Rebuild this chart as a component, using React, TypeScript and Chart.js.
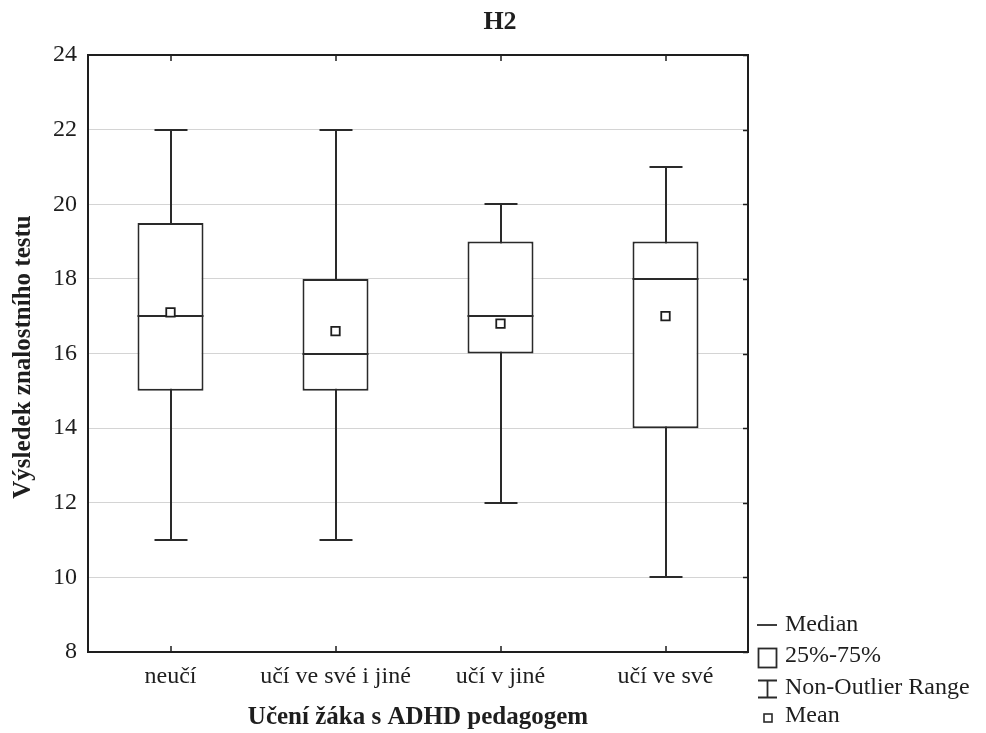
import React, { useEffect, useRef } from "react";
import { Chart, registerables } from "chart.js";

Chart.register(...registerables);

const categories = ["neučí", "učí ve své i jiné", "učí v jiné", "učí ve své"];
const mins = [11, 11, 12, 10];
const q1s = [15, 15, 16, 14];
const medians = [17, 16, 17, 18];
const q3s = [19.5, 18, 19, 19];
const maxs = [22, 22, 20, 21];
const means = [17.1, 16.6, 16.8, 17.0];

const chartTitle = "H2";
const xTitle = "Učení žáka s ADHD pedagogem";
const yTitle = "Výsledek znalostního testu";
const legendLabels = ["Median", "25%-75%", "Non-Outlier Range", "Mean"];

const FONT = '"Liberation Serif", "Times New Roman", serif';
const INK = "#1e1e1e";
const LINE = "#2a2a2a";
const LW = 2;

const boxPlugin = {
  id: "boxExtras",
  beforeDatasetsDraw(chart: any) {
    const { ctx } = chart;
    const x = chart.scales.x;
    const y = chart.scales.y;
    const ca = chart.chartArea;
    ctx.save();
    ctx.strokeStyle = INK;
    ctx.lineWidth = 1.5;
    y.ticks.forEach((t: any) => {
      const py = Math.round(y.getPixelForValue(t.value)) + 0.5;
      ctx.beginPath();
      ctx.moveTo(ca.right - 5, py);
      ctx.lineTo(ca.right, py);
      ctx.stroke();
    });
    categories.forEach((_, i) => {
      const px = Math.round(x.getPixelForValue(i));
      ctx.beginPath();
      ctx.moveTo(px, ca.top);
      ctx.lineTo(px, ca.top + 6);
      ctx.moveTo(px, ca.bottom);
      ctx.lineTo(px, ca.bottom - 6);
      ctx.stroke();
    });
    ctx.strokeStyle = LINE;
    ctx.lineWidth = LW;
    categories.forEach((_, i) => {
      const px = Math.round(x.getPixelForValue(i));
      const yMin = Math.round(y.getPixelForValue(mins[i]));
      const yMax = Math.round(y.getPixelForValue(maxs[i]));
      ctx.beginPath();
      ctx.moveTo(px, yMin);
      ctx.lineTo(px, yMax);
      ctx.moveTo(px - 16.5, yMin);
      ctx.lineTo(px + 16.5, yMin);
      ctx.moveTo(px - 16.5, yMax);
      ctx.lineTo(px + 16.5, yMax);
      ctx.stroke();
    });
    ctx.restore();
  },
  afterDatasetDraw(chart: any, args: any) {
    if (args.index !== 0) return;
    const { ctx } = chart;
    const y = chart.scales.y;
    const meta = chart.getDatasetMeta(0);
    ctx.save();
    ctx.strokeStyle = LINE;
    ctx.lineWidth = LW;
    meta.data.forEach((bar: any, i: number) => {
      const half = bar.width / 2;
      const py = Math.round(y.getPixelForValue(medians[i]));
      ctx.beginPath();
      ctx.moveTo(bar.x - half, py);
      ctx.lineTo(bar.x + half, py);
      ctx.stroke();
    });
    ctx.restore();
  },
  afterDraw(chart: any) {
    const { ctx } = chart;
    const ca = chart.chartArea;
    ctx.save();
    ctx.strokeStyle = INK;
    ctx.lineWidth = 2;
    ctx.strokeRect(ca.left, ca.top, ca.right - ca.left, ca.bottom - ca.top);
    ctx.fillStyle = INK;
    ctx.textAlign = "center";
    ctx.textBaseline = "middle";
    ctx.font = `bold 26px ${FONT}`;
    ctx.fillText(chartTitle, 500, 22);
    ctx.font = `bold 25px ${FONT}`;
    ctx.fillText(xTitle, (ca.left + ca.right) / 2, 718);
    ctx.save();
    ctx.translate(24, 357);
    ctx.rotate(-Math.PI / 2);
    ctx.fillText(yTitle, 0, 0);
    ctx.restore();
    ctx.font = `24px ${FONT}`;
    ctx.textAlign = "left";
    const tx = 785;
    const rows = [625, 656, 688, 716];
    ctx.strokeStyle = LINE;
    ctx.lineWidth = 1.8;
    ctx.beginPath();
    ctx.moveTo(757, rows[0]);
    ctx.lineTo(777, rows[0]);
    ctx.stroke();
    ctx.strokeRect(758.5, 648.5, 18, 19);
    ctx.beginPath();
    ctx.moveTo(767.5, 680);
    ctx.lineTo(767.5, 698);
    ctx.moveTo(758, 680.5);
    ctx.lineTo(777, 680.5);
    ctx.moveTo(758, 697.5);
    ctx.lineTo(777, 697.5);
    ctx.stroke();
    ctx.lineWidth = 1.6;
    ctx.strokeRect(764, 714, 8, 8);
    legendLabels.forEach((l, i) => ctx.fillText(l, tx, rows[i]));
    ctx.restore();
  },
};

export default function App() {
  const ref = useRef<HTMLCanvasElement>(null);
  useEffect(() => {
    document.body.style.margin = "0";
    const chart = new Chart(ref.current!, {
      type: "bar",
      data: {
        labels: categories,
        datasets: [
          {
            type: "bar",
            data: categories.map((_, i) => [q1s[i], q3s[i]]) as any,
            backgroundColor: "#ffffff",
            borderColor: LINE,
            borderWidth: LW,
            borderSkipped: false,
            barPercentage: 0.4,
            categoryPercentage: 1,
            order: 1,
          },
          {
            type: "line",
            data: means,
            showLine: false,
            pointStyle: "rect",
            pointRadius: 6,
            pointBackgroundColor: "#ffffff",
            pointBorderColor: INK,
            pointBorderWidth: 1.8,
            order: 0,
          } as any,
        ],
      },
      options: {
        responsive: false,
        animation: false,
        devicePixelRatio: 1,
        layout: { padding: { top: 55, right: 238, left: 0, bottom: 0 } },
        plugins: {
          legend: { display: false },
          title: { display: false },
          tooltip: { enabled: false },
        },
        scales: {
          x: {
            type: "category",
            offset: true,
            grid: { display: false, drawTicks: false },
            border: { display: false },
            ticks: {
              color: INK,
              font: { family: FONT, size: 24 },
              padding: 10,
              maxRotation: 0,
              autoSkip: false,
            },
            afterFit(scale: any) {
              scale.height = 81;
            },
          },
          y: {
            min: 8,
            max: 24,
            grid: { color: "#d4d4d4", lineWidth: 1, drawTicks: false },
            border: { display: false },
            ticks: {
              stepSize: 2,
              color: INK,
              font: { family: FONT, size: 24 },
              padding: 11,
            },
            afterFit(scale: any) {
              scale.width = 88;
            },
          },
        },
      },
      plugins: [boxPlugin],
    });
    return () => chart.destroy();
  }, []);
  return <canvas ref={ref} width={986} height={733} />;
}
